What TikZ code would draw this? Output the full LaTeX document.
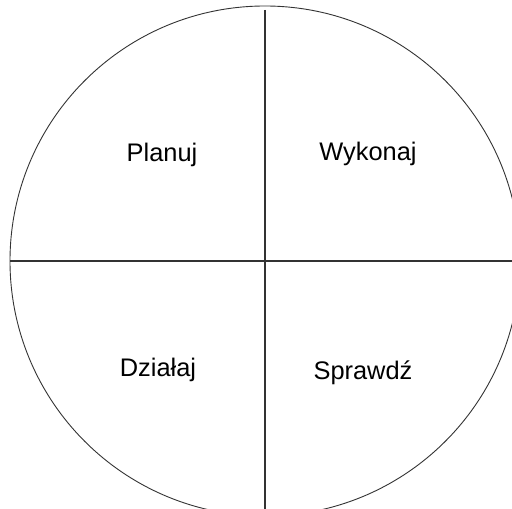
\documentclass[tikz,border=0pt]{standalone}
\usepackage{fontspec}
\setmainfont{Liberation Sans}
\begin{document}
\begin{tikzpicture}[x=1bp,y=1bp,
  lbl/.style={anchor=base,inner sep=0pt,font=\fontsize{25.5}{30}\selectfont},
  edge/.style={draw=black!80,line width=1.1bp}]
\useasboundingbox (0,0) rectangle (512,509);
\coordinate (c) at (265,248);
\coordinate (top) at (265,499);
\coordinate (bot) at (265,0);
\coordinate (lft) at (10,248);
\coordinate (rgt) at (512,248);
\begin{scope}
\clip (0,0) rectangle (512,509);
\draw[draw=black!80,line width=0.9bp] (c) circle[radius=255];
\end{scope}
\draw[edge] (top) -- (bot);
\draw[edge] (lft) -- (rgt);
\node[lbl] (plan) at (162,347) {Planuj};
\node[lbl] (wyk) at (368,348) {Wykonaj};
\node[lbl] (dzi) at (158,132) {Działaj};
\node[lbl] (spr) at (363,129) {Sprawdź};
\end{tikzpicture}
\end{document}
